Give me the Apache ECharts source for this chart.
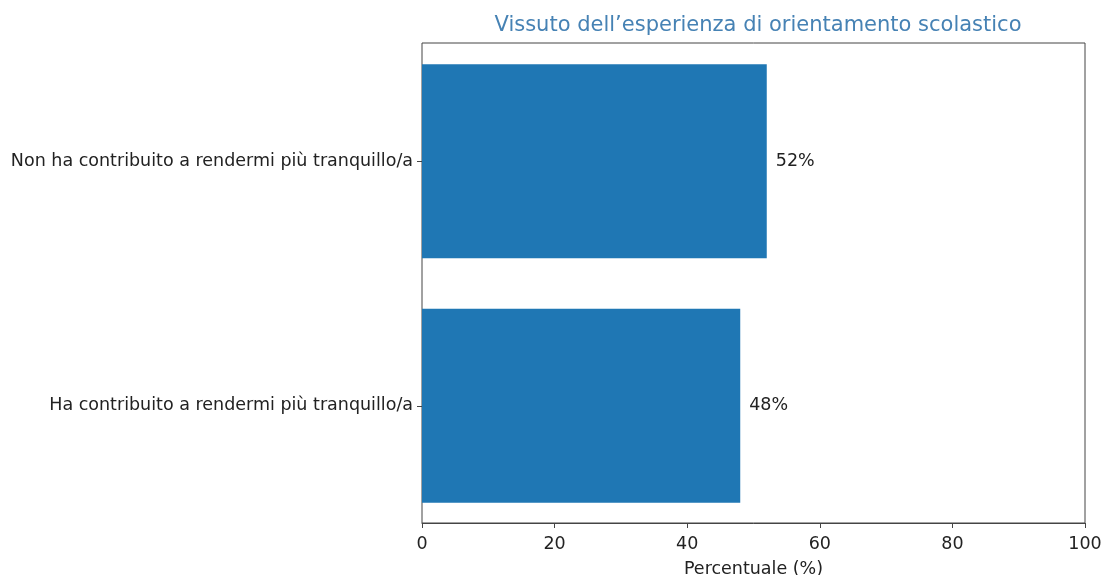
<!DOCTYPE html>
<html>
<head>
<meta charset="utf-8">
<script src="https://cdn.jsdelivr.net/npm/echarts@6/dist/echarts.min.js"></script>
<style>html,body{margin:0;padding:0;background:#fff}#c{width:1104px;height:575px}</style>
</head>
<body>
<div id="c"></div>
<script>
const categories = ["Ha contribuito a rendermi più tranquillo/a", "Non ha contribuito a rendermi più tranquillo/a"];
const values = [48, 52];
const xTicks = [0, 20, 40, 60, 80, 100];
const titleText = "Vissuto dell\u2019esperienza di orientamento scolastico";
const xName = "Percentuale (%)";

const chart = echarts.init(document.getElementById('c'), null, {renderer: 'canvas'});
const font = 'DejaVu Sans';
chart.setOption({
  animation: false,
  backgroundColor: '#fff',
  title: {
    text: titleText,
    left: 753, top: 10, textAlign: 'center',
    textStyle: {fontFamily: font, fontSize: 21, fontWeight: 'normal', color: '#4682b4'}
  },
  grid: [
    {left: 422, right: 19, top: 43, bottom: 52, show: true, borderColor: '#444', borderWidth: 1,
      containLabel: false, outerBoundsMode: 'none'},
    {left: 422, right: 19, top: 39, bottom: 47, show: false,
      containLabel: false, outerBoundsMode: 'none'}
  ],
  xAxis: [{
    gridIndex: 0, type: 'value', min: 0, max: 100, interval: 20,
    name: xName, nameLocation: 'middle', nameGap: 37,
    nameTextStyle: {fontFamily: font, fontSize: 17.5, color: '#222'},
    axisLine: {show: true, lineStyle: {color: '#444', width: 1}},
    axisTick: {show: true, length: 5, lineStyle: {color: '#444'}},
    axisLabel: {fontFamily: font, fontSize: 17.5, color: '#222', margin: 12,
      formatter: v => xTicks.includes(v) ? String(v) : ''},
    splitLine: {show: false}
  }, {
    gridIndex: 1, type: 'value', min: 0, max: 100, show: false
  }],
  yAxis: [{
    gridIndex: 0, type: 'value', show: false
  }, {
    gridIndex: 1, type: 'category', data: categories,
    axisLine: {show: false},
    axisTick: {show: true, alignWithLabel: true, length: 5, lineStyle: {color: '#444'}},
    axisLabel: {fontFamily: font, fontSize: 17.5, color: '#222', margin: 9},
    splitLine: {show: false}
  }],
  series: [{
    type: 'bar', xAxisIndex: 1, yAxisIndex: 1, data: values, barWidth: 194,
    itemStyle: {color: '#1f77b4'},
    label: {show: true, position: 'right', distance: 9, formatter: p => p.value + '%',
      fontFamily: font, fontSize: 17.5, color: '#222'}
  }]
});
</script>
</body>
</html>
